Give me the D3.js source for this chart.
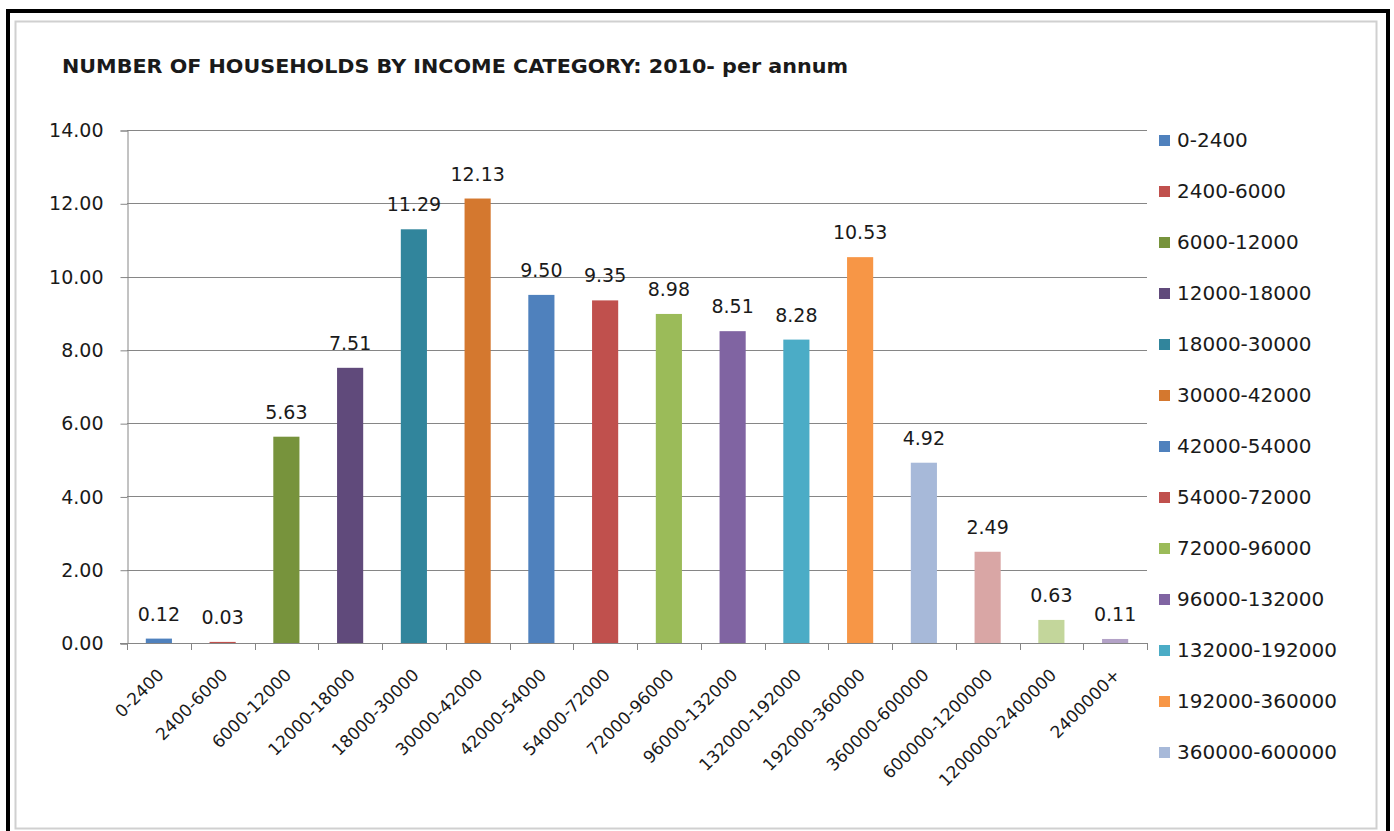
<!DOCTYPE html>
<html>
<head>
<meta charset="utf-8">
<script src="https://cdn.jsdelivr.net/npm/d3@7"></script>
<style>
  html, body { margin: 0; padding: 0; background: #ffffff; }
  svg { display: block; }
  text { font-family: "DejaVu Sans", sans-serif; fill: #1a1a1a; }
</style>
</head>
<body>
<svg id="chart" width="1394" height="831"></svg>
<script>
// Income brackets (per annum) and share of households in each
const categories = [
  "0-2400", "2400-6000", "6000-12000", "12000-18000", "18000-30000",
  "30000-42000", "42000-54000", "54000-72000", "72000-96000", "96000-132000",
  "132000-192000", "192000-360000", "360000-600000", "600000-1200000",
  "1200000-2400000", "2400000+"
];
const values = [
  0.12, 0.03, 5.63, 7.51, 11.29, 12.13, 9.50, 9.35,
  8.98, 8.51, 8.28, 10.53, 4.92, 2.49, 0.63, 0.11
];
const barColors = [
  "#4f81bd", "#c0504d", "#77933c", "#604a7b", "#31859c", "#d4782f",
  "#4f81bd", "#c0504d", "#9bbb59", "#8064a2", "#4bacc6", "#f79646",
  "#a7b9d9", "#d9a6a5", "#c3d69b", "#b3a2c7"
];
// Only the first thirteen entries fit in the legend box
const legendCount = 13;
const yTicks = [0, 2, 4, 6, 8, 10, 12, 14];
const title = "NUMBER OF HOUSEHOLDS BY INCOME CATEGORY: 2010- per annum";

const svg = d3.select("#chart");

// Outer frame and inner chart-area border
svg.append("rect")
  .attr("x", 8).attr("y", 11).attr("width", 1380).attr("height", 840)
  .attr("fill", "#ffffff").attr("stroke", "#000000").attr("stroke-width", 4);
svg.append("rect")
  .attr("x", 15.5).attr("y", 21.5).attr("width", 1361).attr("height", 807)
  .attr("fill", "#ffffff").attr("stroke", "#d0d0d0").attr("stroke-width", 2);

// Title
svg.append("text")
  .attr("x", 62).attr("y", 73)
  .attr("font-size", 20).attr("font-weight", "bold")
  .attr("textLength", 786).attr("lengthAdjust", "spacingAndGlyphs")
  .text(title);

const plot = { left: 127, right: 1147, top: 130, bottom: 643 };

const x = d3.scaleBand()
  .domain(categories)
  .range([plot.left, plot.right])
  .paddingInner(0.59)
  .paddingOuter(0.295);

const y = d3.scaleLinear()
  .domain([0, 14])
  .range([plot.bottom, plot.top]);

// Horizontal gridlines
svg.append("g")
  .selectAll("line")
  .data(yTicks.filter(d => d > 0))
  .join("line")
  .attr("x1", plot.left).attr("x2", plot.right)
  .attr("y1", d => Math.round(y(d)) + 0.5).attr("y2", d => Math.round(y(d)) + 0.5)
  .attr("stroke", "#868686").attr("stroke-width", 1);

// Y axis
const yAxis = svg.append("g")
  .attr("transform", `translate(${plot.left + 0.5},0.5)`)
  .call(d3.axisLeft(y).tickValues(yTicks).tickFormat(d3.format(".2f")).tickSize(7).tickPadding(17));
yAxis.select(".domain").attr("stroke", "#868686");
yAxis.selectAll(".tick line").attr("stroke", "#868686");
yAxis.selectAll(".tick text")
  .attr("font-size", 19).attr("font-family", "DejaVu Sans, sans-serif").attr("fill", "#1a1a1a");

// Bars
const bars = categories.map((c, i) => ({ cat: c, value: values[i], color: barColors[i] }));
svg.append("g")
  .selectAll("rect")
  .data(bars)
  .join("rect")
  .attr("x", d => x(d.cat))
  .attr("y", d => y(d.value))
  .attr("width", x.bandwidth())
  .attr("height", d => y(0) - y(d.value))
  .attr("fill", d => d.color);

// Value labels above bars
svg.append("g")
  .selectAll("text")
  .data(bars)
  .join("text")
  .attr("x", d => x(d.cat) + x.bandwidth() / 2)
  .attr("y", d => y(d.value) - 18)
  .attr("text-anchor", "middle")
  .attr("font-size", 19)
  .text(d => d3.format(".2f")(d.value));

// X axis baseline with category boundary ticks
const step = x.step();
const boundaries = d3.range(categories.length + 1).map(i => plot.left + i * step);
svg.append("line")
  .attr("x1", plot.left - 7).attr("x2", plot.right)
  .attr("y1", plot.bottom + 0.5).attr("y2", plot.bottom + 0.5)
  .attr("stroke", "#868686");
svg.append("g")
  .selectAll("line")
  .data(boundaries)
  .join("line")
  .attr("x1", d => Math.round(d) + 0.5).attr("x2", d => Math.round(d) + 0.5)
  .attr("y1", plot.bottom).attr("y2", plot.bottom + 7)
  .attr("stroke", "#868686");

// Rotated category labels
svg.append("g")
  .selectAll("text")
  .data(categories)
  .join("text")
  .attr("text-anchor", "end")
  .attr("font-size", 17)
  .attr("transform", d => `translate(${x(d) + x.bandwidth() / 2 + 6},${plot.bottom + 33}) rotate(-45)`)
  .text(d => d);

// Legend
const legend = svg.append("g")
  .selectAll("g")
  .data(bars.slice(0, legendCount))
  .join("g")
  .attr("transform", (d, i) => `translate(1159,${140 + i * 51})`);
legend.append("rect")
  .attr("x", 0).attr("y", -5).attr("width", 11).attr("height", 11)
  .attr("fill", d => d.color);
legend.append("text")
  .attr("x", 18).attr("y", 7)
  .attr("font-size", 20)
  .text(d => d.cat);
</script>
</body>
</html>
